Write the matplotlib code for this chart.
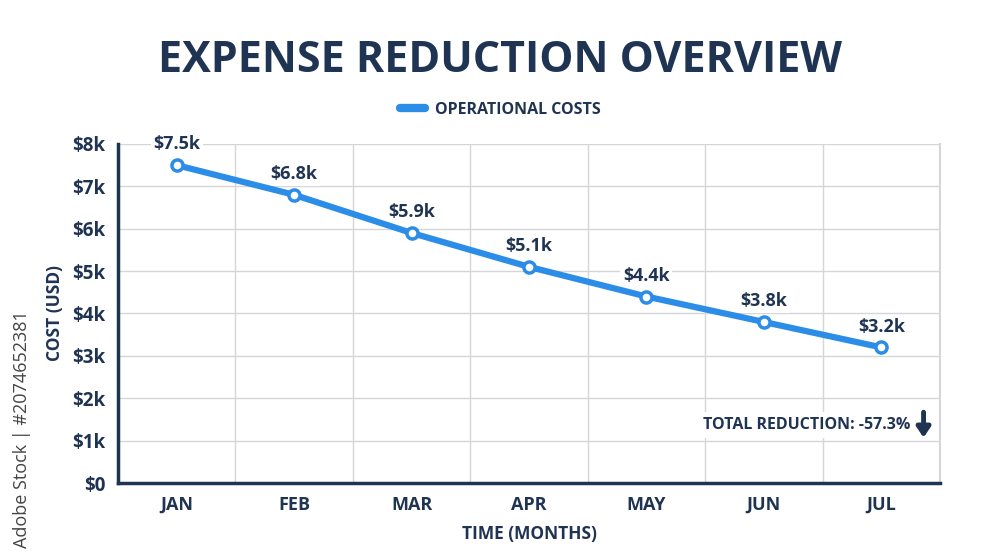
import matplotlib.pyplot as plt

months = ["JAN", "FEB", "MAR", "APR", "MAY", "JUN", "JUL"]
costs_k = [7.5, 6.8, 5.9, 5.1, 4.4, 3.8, 3.2]
point_labels = ["$7.5k", "$6.8k", "$5.9k", "$5.1k", "$4.4k", "$3.8k", "$3.2k"]
y_ticks = [0, 1, 2, 3, 4, 5, 6, 7, 8]
y_tick_labels = ["$0", "$1k", "$2k", "$3k", "$4k", "$5k", "$6k", "$7k", "$8k"]
total_reduction = "TOTAL REDUCTION: -57.3%"

NAVY = "#1f3352"
BLUE = "#2b8de8"
GRID = "#d4d6da"


def main():
    plt.rcParams["font.family"] = ["Open Sans", "DejaVu Sans"]
    fig = plt.figure(figsize=(10, 5.58), dpi=100)
    ax = fig.add_axes([0.118, 0.1344, 0.822, 0.6076])

    x = range(len(months))
    ax.plot(x, costs_k, color=BLUE, lw=4.5, marker="o", ms=8,
            mfc="white", mec=BLUE, mew=2.5, solid_capstyle="round",
            label="OPERATIONAL COSTS", zorder=4)

    for i, (v, lab) in enumerate(zip(costs_k, point_labels)):
        ax.annotate(lab, (i, v), xytext=(0, 15), textcoords="offset points",
                    ha="center", va="center", fontsize=13, fontweight="bold",
                    color=NAVY, zorder=3,
                    bbox=dict(boxstyle="square,pad=0.15", fc="white", ec="none"))

    ax.set_xlim(-0.5, len(months) - 0.5)
    ax.set_ylim(0, 8)
    ax.set_xticks(list(x))
    ax.set_xticklabels(months, fontsize=13, fontweight="bold", color=NAVY)
    ax.set_yticks(y_ticks)
    ax.set_yticklabels(y_tick_labels, fontsize=13.5, fontweight="bold", color=NAVY)
    ax.tick_params(axis="y", length=0, pad=9)
    ax.tick_params(axis="x", length=0, pad=9)

    # gridlines: horizontal at ticks, vertical at month boundaries
    for yv in y_ticks[1:]:
        ax.axhline(yv, color=GRID, lw=1, zorder=1)
    for b in range(1, len(months)):
        ax.axvline(b - 0.5, color=GRID, lw=1, zorder=1)

    for s in ["left", "bottom"]:
        ax.spines[s].set_color(NAVY)
        ax.spines[s].set_linewidth(2.5)
    ax.spines["right"].set_color(GRID)
    ax.spines["right"].set_linewidth(1.5)
    ax.spines["top"].set_visible(False)

    ax.set_xlabel("TIME (MONTHS)", fontsize=12.5, fontweight="bold", color=NAVY, labelpad=8)
    ax.set_ylabel("COST (USD)", fontsize=12.5, fontweight="bold", color=NAVY, labelpad=6)

    ax.text(6.25, 1.37, total_reduction, ha="right", va="center",
            fontsize=11.5, fontweight="bold", color=NAVY, zorder=5,
            bbox=dict(boxstyle="square,pad=0.3", fc="white", ec="none"))
    ax.annotate("", xy=(6.36, 1.07), xytext=(6.36, 1.67),
                arrowprops=dict(arrowstyle="-|>,head_length=0.6,head_width=0.4",
                                color=NAVY, lw=3.5, shrinkA=0, shrinkB=0),
                zorder=6)

    fig.suptitle("EXPENSE REDUCTION OVERVIEW", x=0.5, y=0.93, fontsize=31,
                 fontweight="bold", color=NAVY)
    leg = ax.legend(loc="lower center", bbox_to_anchor=(0.465, 1.035), frameon=False,
                    prop=dict(weight="bold", size=11.5), labelcolor=NAVY,
                    handlelength=1.6, handletextpad=0.6, markerscale=0)
    for ln in leg.get_lines():
        ln.set_linewidth(6)
        ln.set_solid_capstyle("round")

    fig.text(0.022, 0.23, "Adobe Stock | #2074652381", rotation=90, ha="center",
             va="center", fontsize=13, color="#444444")

    fig.savefig("out.png", dpi=100, facecolor="white")


if __name__ == "__main__":
    main()
